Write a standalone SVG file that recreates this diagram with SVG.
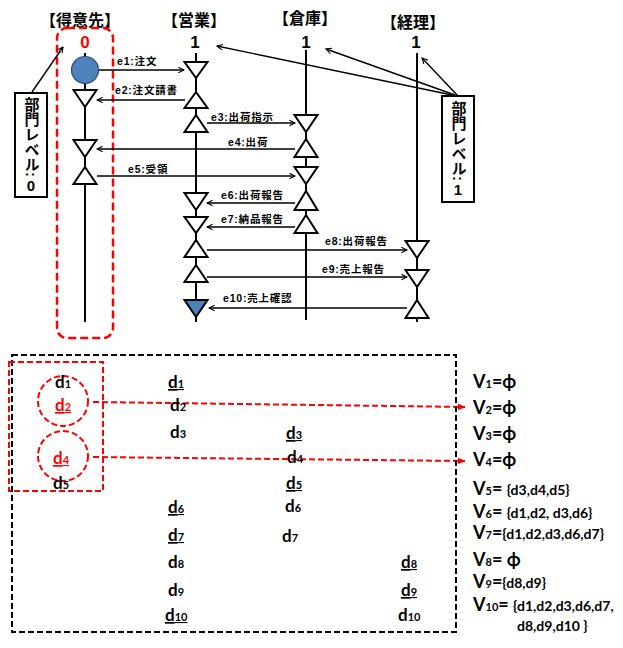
<svg xmlns="http://www.w3.org/2000/svg" width="623" height="648" viewBox="0 0 623 648">
<style>
.hd{font-family:"Liberation Sans","Noto Sans CJK JP",sans-serif;font-weight:bold;font-size:16px;fill:#000;text-anchor:middle}
.num{font-family:"Liberation Sans",sans-serif;font-weight:bold;font-size:17px;text-anchor:middle}
.lane{stroke:#000;stroke-width:2;fill:none}
.tri{fill:#fff;stroke:#000;stroke-width:2;stroke-linejoin:miter}
.msg{stroke:#000;stroke-width:1.4;fill:none;marker-end:url(#open)}
.lbl{font-family:"Liberation Sans","Noto Sans CJK JP",sans-serif;font-weight:bold;font-size:10.5px;letter-spacing:0.8px;fill:#000}
.box{fill:#fff;stroke:#000;stroke-width:2}
.vt{font-family:"Liberation Sans","Noto Sans CJK JP",sans-serif;font-weight:bold;font-size:15px;fill:#000;writing-mode:vertical-rl;text-orientation:mixed}
.up{text-orientation:upright}
.dd{font-family:"Lato","Open Sans",sans-serif;font-weight:bold;font-size:17px;fill:#000}
.sub{font-size:11px}
.u{text-decoration:underline}
.red{fill:#ff0000}
.vv{font-family:"Lato","Open Sans",sans-serif;font-weight:bold;font-size:18px;fill:#000}
.set{font-size:14px}
.rdash{fill:none;stroke:#ff0000;stroke-width:2;stroke-dasharray:6,3}
</style>
<defs>
<marker id="open" viewBox="0 0 10 10" refX="9" refY="5" markerWidth="7" markerHeight="7" markerUnits="userSpaceOnUse" orient="auto">
<path d="M1,1 L9,5 L1,9" fill="none" stroke="#000" stroke-width="1.5"/>
</marker>
<marker id="redarr" viewBox="0 0 10 10" refX="9" refY="5" markerWidth="8" markerHeight="8" markerUnits="userSpaceOnUse" orient="auto">
<path d="M0,1 L10,5 L0,9 Z" fill="#ff0000"/>
</marker>
</defs>
<rect width="623" height="648" fill="#fff"/>

<g id="tokuisaki">
<text class="hd" x="80" y="26">【得意先】</text>
<rect x="57" y="28" width="56" height="310" rx="10" fill="none" stroke="#ff0000" stroke-width="2.5" stroke-dasharray="8,4"/>
<text class="num" x="85" y="48" fill="#ff0000">0</text>
<line class="lane" x1="85" y1="53" x2="85" y2="57"/>
<line class="lane" x1="85" y1="83" x2="85" y2="322"/>
<circle cx="85" cy="70" r="13.5" fill="#4f81bd" stroke="#2c4d75" stroke-width="1.2"/>
<polygon class="tri" points="73.5,90 96.5,90 85,107"/>
<polygon class="tri" points="73.5,140 96.5,140 85,157"/>
<polygon class="tri" points="85,167 73.5,184 96.5,184"/>
</g>

<g id="eigyo">
<text class="hd" x="194" y="26">【営業】</text>
<text class="num" x="195" y="48">1</text>
<line class="lane" x1="196" y1="53" x2="196" y2="322"/>
<polygon class="tri" points="184.5,62 207.5,62 196,78"/>
<polygon class="tri" points="196,92 184.5,108 207.5,108"/>
<polygon class="tri" points="196,115 184.5,132 207.5,132"/>
<polygon class="tri" points="184.5,193 207.5,193 196,210"/>
<polygon class="tri" points="184.5,217 207.5,217 196,233"/>
<polygon class="tri" points="196,240 184.5,257 207.5,257"/>
<polygon class="tri" points="196,265 184.5,282 207.5,282"/>
<polygon points="184.5,300 207.5,300 196,317" fill="#4f81bd" stroke="#000" stroke-width="2"/>
</g>

<g id="soko">
<text class="hd" x="305" y="24">【倉庫】</text>
<text class="num" x="306" y="48">1</text>
<line class="lane" x1="306" y1="50" x2="306" y2="320"/>
<polygon class="tri" points="294.5,115 317.5,115 306,132"/>
<polygon class="tri" points="306,139 294.5,157 317.5,157"/>
<polygon class="tri" points="294.5,167 317.5,167 306,184"/>
<polygon class="tri" points="306,191 294.5,210 317.5,210"/>
<polygon class="tri" points="306,215 294.5,233 317.5,233"/>
</g>

<g id="keiri">
<text class="hd" x="413" y="28">【経理】</text>
<text class="num" x="416" y="48">1</text>
<line class="lane" x1="417" y1="53" x2="417" y2="322"/>
<polygon class="tri" points="405.5,241 428.5,241 417,258"/>
<polygon class="tri" points="405.5,270 428.5,270 417,287"/>
<polygon class="tri" points="417,300 405.5,318 428.5,318"/>
</g>

<g id="connectors">
<line class="msg" x1="99" y1="70" x2="184" y2="70"/>
<line class="msg" x1="185" y1="100" x2="97" y2="100"/>
<line class="msg" x1="207" y1="123" x2="295" y2="123"/>
<line class="msg" x1="295" y1="149" x2="97" y2="149"/>
<line class="msg" x1="97" y1="176" x2="295" y2="176"/>
<line class="msg" x1="295" y1="203" x2="207" y2="203"/>
<line class="msg" x1="295" y1="227" x2="207" y2="227"/>
<line class="msg" x1="207" y1="250" x2="407" y2="250"/>
<line class="msg" x1="207" y1="277" x2="407" y2="277"/>
<line class="msg" x1="407" y1="308" x2="209" y2="308"/>
<line class="msg" x1="32" y1="92" x2="63" y2="47"/>
<line class="msg" x1="452" y1="95" x2="217" y2="46"/>
<line class="msg" x1="455" y1="95" x2="326" y2="49"/>
<line class="msg" x1="458" y1="96" x2="422" y2="58"/>
<line x1="93" y1="402" x2="465" y2="407" stroke="#ff0000" stroke-width="2" stroke-dasharray="6,3" marker-end="url(#redarr)"/>
<line x1="93" y1="457" x2="465" y2="461" stroke="#ff0000" stroke-width="2" stroke-dasharray="6,3" marker-end="url(#redarr)"/>
</g>

<g id="labels">
<text class="lbl" x="117" y="65">e1:注文</text>
<text class="lbl" x="115" y="94">e2:注文請書</text>
<text class="lbl" x="211" y="121">e3:出荷指示</text>
<text class="lbl" x="228" y="146">e4:出荷</text>
<text class="lbl" x="128" y="173">e5:受領</text>
<text class="lbl" x="221" y="199">e6:出荷報告</text>
<text class="lbl" x="221" y="223">e7:納品報告</text>
<text class="lbl" x="325" y="245">e8:出荷報告</text>
<text class="lbl" x="322" y="273">e9:売上報告</text>
<text class="lbl" x="223" y="302">e10:売上確認</text>
</g>

<g id="level0">
<rect class="box" x="15" y="93" width="32" height="104"/>
<text class="vt" x="31" y="97">部門レベル:<tspan class="up">0</tspan></text>
</g>

<g id="level1">
<rect class="box" x="442" y="96" width="32" height="106"/>
<text class="vt" x="458" y="101">部門レベル:<tspan class="up">1</tspan></text>
</g>

<g id="table">
<rect x="12" y="355" width="444" height="277" fill="none" stroke="#000" stroke-width="2" stroke-dasharray="6,3"/>
<rect class="rdash" x="9" y="362" width="94" height="129"/>
<circle class="rdash" cx="63" cy="401" r="25" stroke-width="1.5" stroke-dasharray="4,2.5"/>
<circle class="rdash" cx="63" cy="456" r="25" stroke-width="1.5" stroke-dasharray="4,2.5"/>

<text class="dd" x="55" y="388">d<tspan class="sub">1</tspan></text>
<text class="dd u red" x="55" y="411">d<tspan class="sub">2</tspan></text>
<text class="dd u red" x="53" y="464">d<tspan class="sub">4</tspan></text>
<text class="dd" x="53" y="489">d<tspan class="sub">5</tspan></text>

<text class="dd u" x="168" y="388">d<tspan class="sub">1</tspan></text>
<text class="dd" x="170" y="411">d<tspan class="sub">2</tspan></text>
<text class="dd" x="170" y="438">d<tspan class="sub">3</tspan></text>
<text class="dd u" x="168" y="513">d<tspan class="sub">6</tspan></text>
<text class="dd u" x="168" y="541">d<tspan class="sub">7</tspan></text>
<text class="dd" x="168" y="568">d<tspan class="sub">8</tspan></text>
<text class="dd" x="168" y="596">d<tspan class="sub">9</tspan></text>
<text class="dd u" x="165" y="621">d<tspan class="sub">10</tspan></text>

<text class="dd u" x="286" y="439">d<tspan class="sub">3</tspan></text>
<text class="dd" x="287" y="463">d<tspan class="sub">4</tspan></text>
<text class="dd u" x="286" y="489">d<tspan class="sub">5</tspan></text>
<text class="dd" x="285" y="512">d<tspan class="sub">6</tspan></text>
<text class="dd" x="282" y="542">d<tspan class="sub">7</tspan></text>

<text class="dd u" x="401" y="568">d<tspan class="sub">8</tspan></text>
<text class="dd u" x="401" y="596">d<tspan class="sub">9</tspan></text>
<text class="dd" x="398" y="621">d<tspan class="sub">10</tspan></text>
</g>

<g id="vsets">
<text class="vv" x="473" y="388">V<tspan class="sub">1</tspan>=ϕ</text>
<text class="vv red" x="473" y="414">V<tspan class="sub">2</tspan>=ϕ</text>
<text class="vv" x="473" y="440">V<tspan class="sub">3</tspan>=ϕ</text>
<text class="vv red" x="473" y="466">V<tspan class="sub">4</tspan>=ϕ</text>
<text class="vv" x="473" y="495">V<tspan class="sub">5</tspan>= <tspan class="set">{d3,d4,d5}</tspan></text>
<text class="vv" x="473" y="518">V<tspan class="sub">6</tspan>= <tspan class="set">{d1,d2, d3,d6}</tspan></text>
<text class="vv" x="473" y="539">V<tspan class="sub">7</tspan>=<tspan class="set">{d1,d2,d3,d6,d7}</tspan></text>
<text class="vv" x="473" y="566">V<tspan class="sub">8</tspan>= ϕ</text>
<text class="vv" x="473" y="588">V<tspan class="sub">9</tspan>=<tspan class="set">{d8,d9}</tspan></text>
<text class="vv" x="473" y="611">V<tspan class="sub">10</tspan>= <tspan class="set">{d1,d2,d3,d6,d7,</tspan></text>
<text class="vv" x="517" y="631"><tspan class="set">d8,d9,d10 }</tspan></text>
</g>
</svg>
